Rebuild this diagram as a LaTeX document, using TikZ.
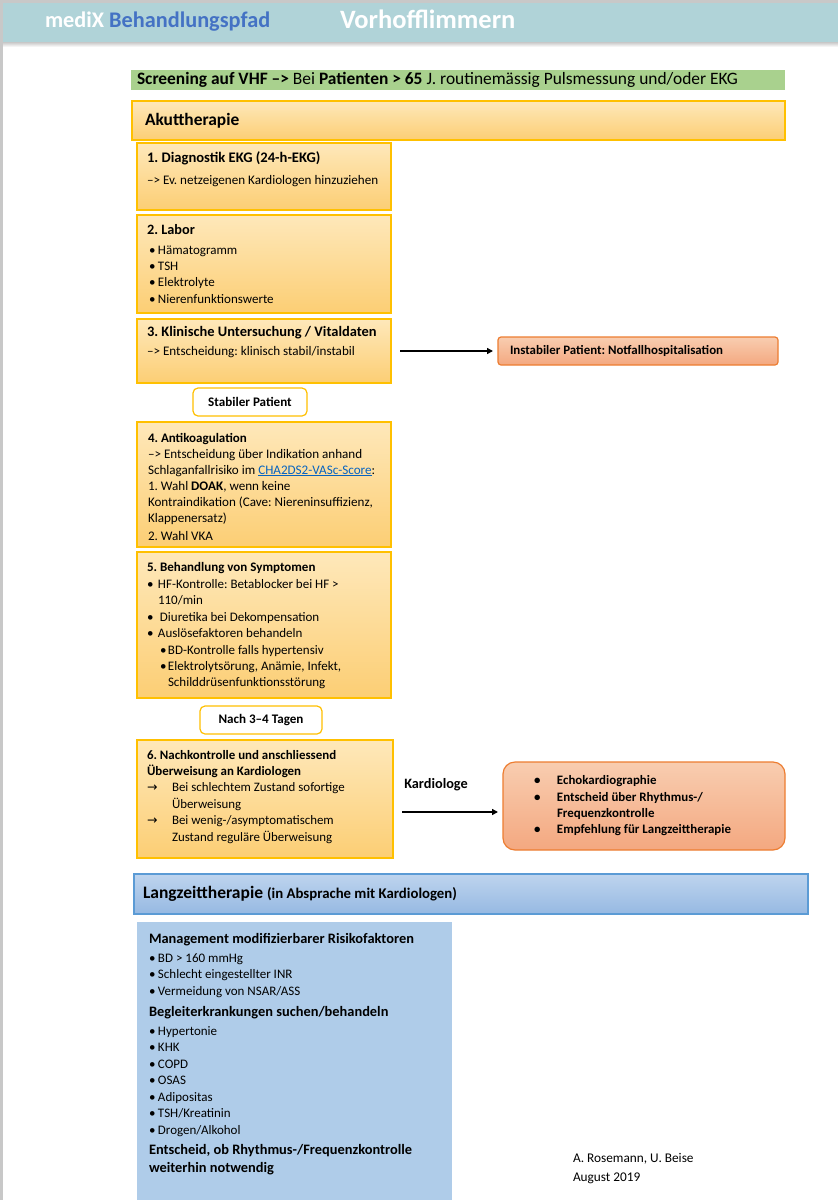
\documentclass[tikz,border=0pt]{standalone}
\usepackage{fontspec}
\setmainfont{Carlito}
\newfontfamily\symfont{DejaVu Sans}
\usetikzlibrary{positioning, arrows.meta}

\definecolor{framegray}{RGB}{200,200,200}
\definecolor{headfill}{RGB}{176,211,216}
\definecolor{brandblue}{RGB}{68,114,196}
\definecolor{screengreen}{RGB}{169,209,142}
\definecolor{akutline}{RGB}{255,192,0}
\definecolor{akuttop}{RGB}{254,232,186}
\definecolor{akutbot}{RGB}{252,206,116}
\definecolor{alarmline}{RGB}{237,125,49}
\definecolor{alarmtop}{RGB}{248,205,176}
\definecolor{alarmbot}{RGB}{244,168,128}
\definecolor{langline}{RGB}{91,155,213}
\definecolor{langtop}{RGB}{190,212,238}
\definecolor{langbot}{RGB}{150,185,226}
\definecolor{mgmtfill}{RGB}{175,204,233}
\definecolor{linkblue}{RGB}{5,99,193}

\frenchspacing
\newcommand\bul[1][9pt]{\makebox[#1][l]{\textbullet}}
\newcommand\pfeil{\makebox[25pt][l]{{\symfont\fontsize{12.5}{13}\selectfont →}}}

\begin{document}
\begin{tikzpicture}[x=1pt, y=-1pt, outer sep=0pt,
    stepbox/.style={draw=akutline, line width=1.2pt, top color=akuttop, bottom color=akutbot, anchor=north west, minimum width=254pt, inner sep=0pt},
    boxtext/.style={anchor=base west, inner sep=0pt, align=flush left, text width=250pt, font=\fontsize{13.1}{16}\selectfont},
    bartext/.style={anchor=north west, inner ysep=0pt, align=flush left},
    pillbox/.style={draw=akutline, line width=1.2pt, fill=white, rounded corners=5pt, anchor=north west, minimum height=28pt, inner sep=0pt, font=\fontsize{13.1}{15}\selectfont\bfseries},
    alarmbox/.style={draw=alarmline, line width=1.2pt, top color=alarmtop, bottom color=alarmbot, rounded corners=#1, anchor=west, inner ysep=0pt, align=flush left, font=\fontsize{12.9}{16.3}\selectfont\bfseries},
    alarmbox/.default=3pt,
    conn/.style={line width=2.2pt, -{Triangle[length=6pt, width=6pt]}, shorten <=9pt, shorten >=5pt}]

\useasboundingbox (0,0) rectangle (838,1200);
\fill[white] (0,0) rectangle (838,1200);

% frame and header
\fill[framegray] (0,0) rectangle (838,3);
\fill[framegray] (0,0) rectangle (3,1200);
\fill[headfill] (3,3) rectangle (838,42);
\shade[top color=black!22, bottom color=white] (3,42) rectangle (838,47);
\node[anchor=base west, inner sep=0pt, font=\fontsize{22.3}{25}\selectfont\bfseries] (brand) at (45,27) {\textcolor{white}{mediX} \textcolor{brandblue}{Behandlungspfad}};
\node[anchor=base west, inner sep=0pt, font=\fontsize{26.5}{29}\selectfont\bfseries, text=white] (title) at (340,28) {Vorhofflimmern};

% screening
\node[bartext, fill=screengreen, text width=642pt, inner xsep=6pt, minimum height=20pt, font=\fontsize{17.4}{18}\selectfont] (screen) at (131,70)
  {\textbf{Screening auf VHF –>} Bei \textbf{Patienten > 65} J. routinemässig Pulsmessung und/oder EKG};

% Akuttherapie
\node[bartext, draw=akutline, line width=1.2pt, top color=akuttop, bottom color=akutbot, text width=627pt, inner xsep=13pt, minimum height=39pt, font=\fontsize{17.4}{19}\selectfont\bfseries, below right=11pt and 1pt of screen.south west] (akut) {Akuttherapie};

\node[stepbox, minimum height=67pt, below right=3pt and 5pt of akut.south west] (diag) {};
\node[boxtext] (diagtxt) at ([shift={(10,19)}]diag.north west)
  {{\fontsize{14.6}{16}\selectfont\bfseries 1. Diagnostik EKG (24-h-EKG)}\\[6pt]
   –> Ev. netzeigenen Kardiologen hinzuziehen};

\node[stepbox, minimum height=98pt, below right=5pt and 0pt of diag.south west] (labor) {};
\node[boxtext, font=\fontsize{13}{16.3}\selectfont] (labortxt) at ([shift={(10,19)}]labor.north west)
  {{\fontsize{14.3}{16}\selectfont\bfseries 2. Labor}\\[4pt]
   \hspace*{2pt}\bul Hämatogramm\\
   \hspace*{2pt}\bul TSH\\
   \hspace*{2pt}\bul Elektrolyte\\
   \hspace*{2pt}\bul Nierenfunktionswerte};

\node[stepbox, minimum height=64pt, below right=6pt and 0pt of labor.south west] (klinik) {};
\node[boxtext] (kliniktxt) at ([shift={(10,17)}]klinik.north west)
  {{\fontsize{14.45}{16}\selectfont\bfseries 3. Klinische Untersuchung / Vitaldaten}\\[3pt]
   –> Entscheidung: klinisch stabil/instabil};

\node[alarmbox, minimum width=280pt, minimum height=28pt, text width=256pt, inner xsep=12pt, right=107pt of klinik] (instabil) {Instabiler Patient: Notfallhospitalisation};

\node[pillbox, minimum width=114pt, below right=5pt and 56pt of klinik.south west] (stabil) {Stabiler Patient};

\node[stepbox, minimum height=125pt, below right=6pt and -56pt of stabil.south west] (antikoag) {};
\node[boxtext] (antikoagtxt) at ([shift={(11,20)}]antikoag.north west)
  {{\fontsize{13}{16}\selectfont\bfseries 4. Antikoagulation}\\
   –> Entscheidung über Indikation anhand\\
   Schlaganfallrisiko im \textcolor{linkblue}{\underline{CHA2DS2-VASc-Score}}:\\
   1. Wahl \textbf{DOAK}, wenn keine\\
   Kontraindikation (Cave: Niereninsuffizienz,\\
   Klappenersatz)\\[2pt]
   2. Wahl VKA};

\node[stepbox, minimum height=146pt, below right=5pt and 0pt of antikoag.south west] (sympt) {};
\node[boxtext, font=\fontsize{13}{16.4}\selectfont] (sympttxt) at ([shift={(10,19)}]sympt.north west)
  {\textbf{5. Behandlung von Symptomen}\\[1pt]
   \bul[11pt]HF-Kontrolle: Betablocker bei HF >\\
   \hspace*{11pt}110/min\\
   \bul[13pt]Diuretika bei Dekompensation\\
   \bul[11pt]Auslösefaktoren behandeln\\
   \hspace*{13pt}\bul[8pt]BD-Kontrolle falls hypertensiv\\
   \hspace*{13pt}\bul[8pt]Elektrolytsörung, Anämie, Infekt,\\
   \hspace*{21pt}Schilddrüsenfunktionsstörung};

\node[pillbox, minimum width=122pt, below right=8pt and 63pt of sympt.south west] (nach) {Nach 3–4 Tagen};

\node[stepbox, minimum width=256pt, minimum height=118pt, below right=6pt and -63pt of nach.south west] (nachk) {};
\node[boxtext, font=\fontsize{12.9}{16.4}\selectfont] (nachktxt) at ([shift={(10,19)}]nachk.north west)
  {\textbf{6. Nachkontrolle und anschliessend}\\
   \textbf{Überweisung an Kardiologen}\\
   \pfeil Bei schlechtem Zustand sofortige\\
   \hspace*{25pt}Überweisung\\
   \pfeil Bei wenig-/asymptomatischem\\
   \hspace*{25pt}Zustand reguläre Überweisung};

\node[alarmbox=12pt, minimum width=282pt, minimum height=88pt, text width=220pt, inner xsep=31pt, right=110pt of nachk, yshift=-7pt] (kardio)
  {\bul[23pt]Echokardiographie\\
   \bul[23pt]Entscheid über Rhythmus-/\\
   \hspace*{23pt}Frequenzkontrolle\\
   \bul[23pt]Empfehlung für Langzeittherapie};

\node[font=\fontsize{14.3}{16}\selectfont\bfseries, inner sep=0pt] (kardlbl) at ([shift={(43,-14)}]nachk.east) {Kardiologe};

% Langzeittherapie
\node[bartext, draw=langline, line width=1.2pt, top color=langtop, bottom color=langbot, text width=656pt, inner xsep=9pt, minimum height=40pt, font=\fontsize{17.5}{19}\selectfont\bfseries, below right=16pt and -3pt of nachk.south west] (langzeit)
  {Langzeittherapie {\fontsize{14.8}{15}\selectfont(in Absprache mit Kardiologen)}};

\node[anchor=north west, fill=mgmtfill, minimum width=315pt, minimum height=278pt, inner sep=0pt, below right=8pt and 3pt of langzeit.south west] (mgmt) {};
\node[boxtext, text width=310pt, font=\fontsize{13}{16.5}\selectfont] (mgmttxt) at ([shift={(12,21)}]mgmt.north west)
  {{\fontsize{14.4}{16}\selectfont\bfseries Management modifizierbarer Risikofaktoren}\\[2.5pt]
   \bul BD > 160 mmHg\\
   \bul Schlecht eingestellter INR\\
   \bul Vermeidung von NSAR/ASS\\[4.5pt]
   {\fontsize{14.4}{16}\selectfont\bfseries Begleiterkrankungen suchen/behandeln}\\[2.5pt]
   \bul Hypertonie\\
   \bul KHK\\
   \bul COPD\\
   \bul OSAS\\
   \bul Adipositas\\
   \bul TSH/Kreatinin\\
   \bul Drogen/Alkohol\\[3.5pt]
   {\fontsize{14.4}{16}\selectfont\bfseries Entscheid, ob Rhythmus-/Frequenzkontrolle}\\[1.5pt]
   {\fontsize{14.4}{16}\selectfont\bfseries weiterhin notwendig}};

\node[anchor=base west, inner sep=0pt, align=flush left, text width=150pt, font=\fontsize{13.3}{19}\selectfont] (autoren) at (573,1162)
  {A. Rosemann, U. Beise\\August 2019};

% connectors
\draw[conn] (klinik.east |- instabil.west) -- (instabil.west);
\draw[conn] ([yshift=-13pt]nachk.east) -- ([yshift=-13pt]nachk.east -| kardio.west);
\end{tikzpicture}
\end{document}
